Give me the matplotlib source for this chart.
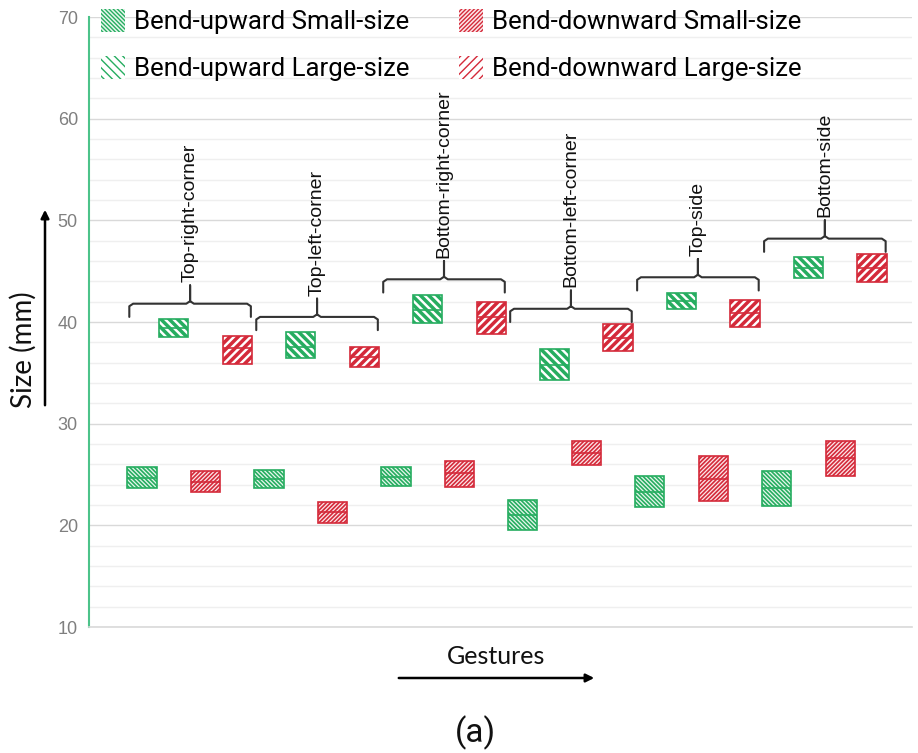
import matplotlib
matplotlib.use("Agg")
import matplotlib.pyplot as plt
import numpy as np
from matplotlib.patches import Patch, FancyArrowPatch

# ---------------- data ----------------
gestures = ["Top-right-corner", "Top-left-corner", "Bottom-right-corner",
            "Bottom-left-corner", "Top-side", "Bottom-side"]
series_names = ["Bend-upward Small-size", "Bend-upward Large-size",
                "Bend-downward Small-size", "Bend-downward Large-size"]

up_small_q1 = [23.7, 23.7, 23.9, 19.5, 21.8, 21.9]
up_small_med = [24.7, 24.6, 24.8, 21.0, 23.3, 23.7]
up_small_q3 = [25.75, 25.45, 25.7, 22.5, 24.9, 25.3]

up_large_q1 = [38.5, 36.5, 39.9, 34.3, 41.3, 44.3]
up_large_med = [39.4, 37.5, 41.2, 35.8, 42.1, 45.3]
up_large_q3 = [40.3, 39.0, 42.7, 37.3, 42.9, 46.4]

down_small_q1 = [23.3, 20.25, 23.8, 25.95, 22.4, 24.9]
down_small_med = [24.3, 21.3, 25.1, 27.1, 24.6, 26.6]
down_small_q3 = [25.3, 22.3, 26.3, 28.3, 26.8, 28.3]

down_large_q1 = [35.9, 35.6, 38.8, 37.1, 39.5, 43.9]
down_large_med = [37.4, 36.6, 40.5, 38.4, 40.9, 45.3]
down_large_q3 = [38.6, 37.5, 42.0, 39.8, 42.2, 46.7]

y_ticks = [10, 20, 30, 40, 50, 60, 70]

# ---------------- style ----------------
GREEN = "#26ad60"
RED = "#d42a3a"
GREEN_PALE = "#e6f6ec"
RED_PALE = "#fce6e8"

BS = "\\"
series = [
    (up_small_q1, up_small_med, up_small_q3, GREEN, GREEN_PALE, BS * 8, 1.2),
    (up_large_q1, up_large_med, up_large_q3, GREEN, "white", BS * 4, 2.5),
    (down_small_q1, down_small_med, down_small_q3, RED, RED_PALE, "/" * 8, 1.2),
    (down_large_q1, down_large_med, down_large_q3, RED, "white", "/" * 4, 2.5),
]

fig = plt.figure(figsize=(9.18, 7.53), dpi=100)
ax = fig.add_axes([89 / 918, 1 - 627 / 753, (912 - 89) / 918, (627 - 17) / 753])

n_series = len(series)
box_w = 0.92
handles = []
for s_idx, (q1, med, q3, col, face, hatch, hlw) in enumerate(series):
    q1 = np.array(q1); med = np.array(med); q3 = np.array(q3)
    x = np.arange(len(gestures)) * n_series + s_idx
    with plt.rc_context({"hatch.linewidth": hlw}):
        bars = ax.bar(x, q3 - q1, bottom=q1, width=box_w, facecolor=face,
                      edgecolor=col, hatch=hatch, linewidth=1.2, zorder=3)
        for b in bars:
            if hasattr(b, "set_hatch_linewidth"):
                b.set_hatch_linewidth(hlw)
        h = Patch(facecolor=face, edgecolor=col, hatch=hatch, linewidth=0)
        if hasattr(h, "set_hatch_linewidth"):
            h.set_hatch_linewidth(hlw)
    handles.append(h)
    ax.hlines(med, x - box_w / 2, x + box_w / 2, color=col, linewidth=1.2, zorder=4)

# brackets + gesture labels
large_tops = np.maximum(np.array(up_large_q3), np.array(down_large_q3))
for g, name in enumerate(gestures):
    x0 = g * n_series - 0.4
    x1 = g * n_series + n_series - 1 + 0.43
    xm = (x0 + x1) / 2
    hy = large_tops[g] + 1.5
    r = 0.12
    xs = [x0, x0, x0 + r, xm - r, xm, xm, xm, xm + r, x1 - r, x1, x1]
    ys = [hy - 1.3, hy - 0.25, hy, hy, hy + 0.25, hy + 1.8, hy + 0.25, hy, hy, hy - 0.25, hy - 1.3]
    ax.plot(xs, ys, color="#333333", linewidth=1.5, zorder=5,
            solid_joinstyle="round", solid_capstyle="round")
    ax.text(xm, hy + 2.1, name, rotation=90, ha="center", va="bottom",
            fontsize=14, family="Liberation Sans", color="#111111")

# axes styling
ax.set_ylim(10, 70)
ax.set_xlim(-1.67, 24.26)
ax.set_yticks(y_ticks)
ax.set_yticks(np.arange(10, 71, 2), minor=True)
ax.set_xticks([])
ax.tick_params(axis="y", which="both", length=0, pad=8, labelsize=13,
               labelcolor="#7f7f7f")
for lab in ax.get_yticklabels():
    lab.set_family("Liberation Sans")
ax.grid(axis="y", which="major", color="#d9d9d9", linewidth=1.0, zorder=0)
ax.grid(axis="y", which="minor", color="#efefef", linewidth=1.0, zorder=0)
ax.set_axisbelow(True)
for sp in ["top", "right"]:
    ax.spines[sp].set_visible(False)
ax.spines["left"].set_color("#4cc38a")
ax.spines["left"].set_linewidth(1.5)
ax.spines["bottom"].set_color("#d9d9d9")
ax.spines["bottom"].set_linewidth(1.2)

# legend
fig.legend(handles, series_names, loc="upper left",
           bbox_to_anchor=(101 / 918, 1 - 9 / 753), ncol=2, frameon=False,
           prop={"family": "Roboto", "size": 18.5}, handlelength=0.95,
           handleheight=1.0, handletextpad=0.35, columnspacing=1.9,
           labelspacing=0.85, borderpad=0, borderaxespad=0)

# y label with arrow
fig.text(23 / 918, 1 - 350 / 753, "Size (mm)", rotation=90, ha="center",
         va="center", fontsize=20, family="Lato", color="#111111")
fig.add_artist(FancyArrowPatch(
    (45 / 918, 1 - 408 / 753), (45 / 918, 1 - 207 / 753),
    transform=fig.transFigure, arrowstyle="-|>", mutation_scale=12,
    color="black", linewidth=1.8))

# x label with arrow
fig.text(496 / 918, 1 - 657 / 753, "Gestures", ha="center", va="center",
         fontsize=18, family="Lato", color="#111111")
fig.add_artist(FancyArrowPatch(
    (396 / 918, 1 - 678 / 753), (597 / 918, 1 - 678 / 753),
    transform=fig.transFigure, arrowstyle="-|>", mutation_scale=12,
    color="black", linewidth=1.8))

fig.text(475 / 918, 1 - 733 / 753, "(a)", ha="center", va="center",
         fontsize=24, family="Roboto", color="#111111")

fig.savefig("out.png", dpi=100)
